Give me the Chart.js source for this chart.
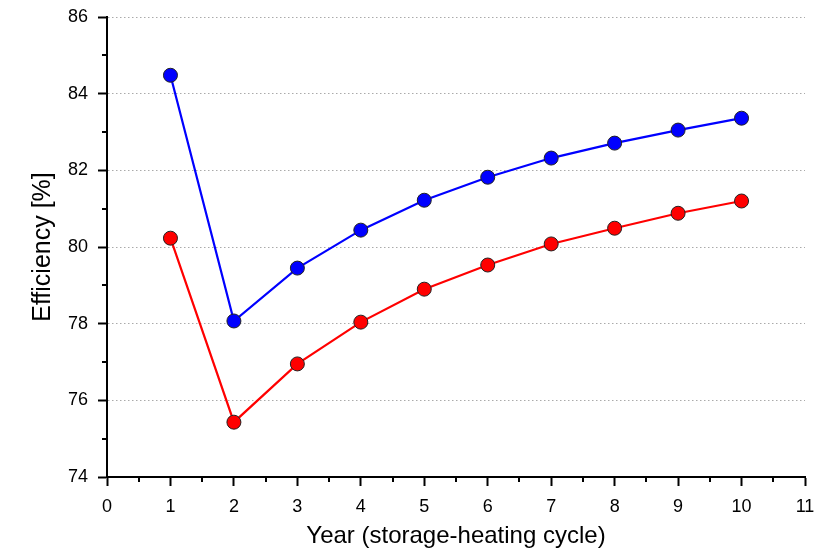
<!DOCTYPE html>
<html lang="en">
  <head>
    <meta charset="UTF-8" />
    <title>Efficiency per year</title>
    <script src="https://cdn.jsdelivr.net/npm/chart.js"></script>
    <style>
      body { margin: 0; background: #fff; }
    </style>
  </head>

  <body>
    <canvas id="chart" width="826" height="548"></canvas>

    <script>
      const years = [1, 2, 3, 4, 5, 6, 7, 8, 9, 10];
      const blueSeries = [84.48, 78.07, 79.45, 80.44, 81.22, 81.82, 82.32, 82.71, 83.05, 83.36];
      const redSeries = [80.23, 75.43, 76.95, 78.04, 78.9, 79.53, 80.08, 80.49, 80.88, 81.2];
      const xMinorTicks = [0.5, 1.5, 2.5, 3.5, 4.5, 5.5, 6.5, 7.5, 8.5, 9.5, 10.5];
      const yMinorTicks = [75, 77, 79, 81, 83, 85];

      const font = "'Liberation Sans', Arial, sans-serif";

      // Chart.js has no minor ticks, so add them along the axes
      const minorTicks = {
        id: "minorTicks",
        afterDraw(chart) {
          const ctx = chart.ctx;
          const xs = chart.scales.x;
          const ys = chart.scales.y;
          ctx.save();
          ctx.strokeStyle = "#000";
          ctx.lineWidth = 2;
          ctx.beginPath();
          xMinorTicks.forEach((v) => {
            const px = Math.round(xs.getPixelForValue(v));
            ctx.moveTo(px, xs.top);
            ctx.lineTo(px, xs.top + 5);
          });
          yMinorTicks.forEach((v) => {
            const py = Math.round(ys.getPixelForValue(v));
            ctx.moveTo(ys.right, py);
            ctx.lineTo(ys.right - 5, py);
          });
          ctx.stroke();
          ctx.restore();
        },
      };

      const pts = (vals) => years.map((x, i) => ({ x: x, y: vals[i] }));

      new Chart(document.getElementById("chart"), {
        type: "line",
        data: {
          datasets: [
            {
              data: pts(blueSeries),
              borderColor: "#0000ff",
              backgroundColor: "#0000ff",
              borderWidth: 2.2,
              pointRadius: 7,
              pointHoverRadius: 7,
              pointBorderColor: "#222",
              pointBorderWidth: 1,
            },
            {
              data: pts(redSeries),
              borderColor: "#ff0000",
              backgroundColor: "#ff0000",
              borderWidth: 2.2,
              pointRadius: 7,
              pointHoverRadius: 7,
              pointBorderColor: "#222",
              pointBorderWidth: 1,
            },
          ],
        },
        options: {
          responsive: false,
          animation: false,
          layout: { padding: { top: 17, right: 21, left: 0, bottom: 0 } },
          plugins: {
            legend: { display: false },
            tooltip: { enabled: false },
          },
          scales: {
            x: {
              type: "linear",
              min: 0,
              max: 11,
              afterFit: (s) => {
                s.height = 71;
                s.paddingLeft = 0;
                s.paddingRight = 0;
              },
              ticks: {
                stepSize: 1,
                color: "#000",
                padding: 10,
                font: { family: font, size: 18 },
              },
              grid: {
                drawOnChartArea: false,
                tickLength: 9,
                tickWidth: 2,
                tickColor: "#000",
              },
              border: { color: "#000", width: 2 },
              title: {
                display: true,
                text: "Year (storage-heating cycle)",
                color: "#000",
                font: { family: font, size: 24, lineHeight: 1.0 },
                padding: { top: 4, bottom: 0 },
              },
            },
            y: {
              min: 74,
              max: 86,
              afterFit: (s) => {
                s.width = 107;
                s.paddingTop = 0;
                s.paddingBottom = 0;
              },
              ticks: {
                stepSize: 2,
                color: "#000",
                padding: 10,
                font: { family: font, size: 18 },
              },
              grid: {
                color: "#aaa",
                lineWidth: 1,
                tickLength: 9,
                tickWidth: 2,
                tickColor: "#000",
                tickBorderDash: [],
              },
              border: { color: "#000", width: 2, dash: [1.5, 2.5] },
              title: {
                display: true,
                text: "Efficiency [%]",
                color: "#000",
                font: { family: font, size: 25 },
                padding: { top: 28, bottom: 0 },
              },
            },
          },
        },
        plugins: [minorTicks],
      });
    </script>
  </body>
</html>
